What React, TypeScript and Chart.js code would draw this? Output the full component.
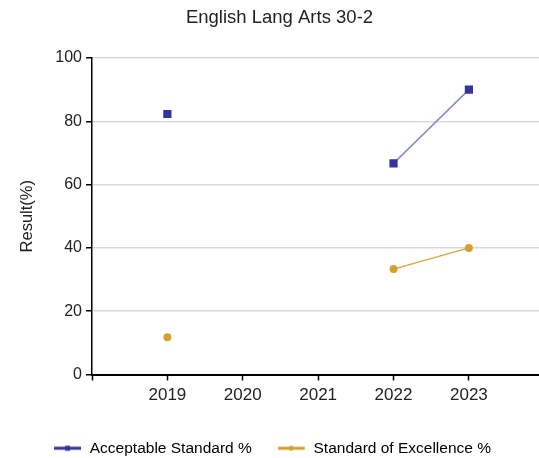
import React, { useEffect, useRef } from 'react';
import { Chart, registerables } from 'chart.js';

Chart.register(...registerables);

// ---- data ----
const years = [2019, 2020, 2021, 2022, 2023];
const acceptable: (number | null)[] = [82.3, null, null, 66.7, 90.0];
const excellence: (number | null)[] = [11.8, null, null, 33.3, 40.0];
const seriesNames = ['Acceptable Standard %', 'Standard of Excellence %'];
const yTickValues = [0, 20, 40, 60, 80, 100];
const chartTitle = 'English Lang Arts 30-2';
const yAxisTitle = 'Result(%)';

const FONT = "'Liberation Sans', Arial, Helvetica, sans-serif";
const TEXT = '#222222';
const ACC_MARK = '#333399';
const ACC_LINE = '#8a8ad2';
const EXC_MARK = '#d4a030';
const EXC_LINE = '#d8a83e';

function makeSample(lineColor: string, markColor: string, shape: 'rect' | 'circle') {
  const c = document.createElement('canvas');
  c.width = 28;
  c.height = 12;
  const ctx = c.getContext('2d')!;
  ctx.strokeStyle = lineColor;
  ctx.lineWidth = 3;
  ctx.beginPath();
  ctx.moveTo(0, 6);
  ctx.lineTo(27, 6);
  ctx.stroke();
  ctx.fillStyle = markColor;
  if (shape === 'rect') {
    ctx.fillRect(11, 3.5, 5, 5);
  } else {
    ctx.beginPath();
    ctx.arc(13.5, 6, 2.5, 0, Math.PI * 2);
    ctx.fill();
  }
  return c;
}

// shifts the title box a little to the right (the source centres it off the canvas middle)
const titleShift = {
  id: 'titleShift',
  afterLayout(chart: any) {
    const t = chart.titleBlock;
    if (t) {
      t.left += 7;
      t.right += 7;
    }
  },
};

export default function App() {
  const ref = useRef<HTMLCanvasElement | null>(null);

  useEffect(() => {
    document.body.style.margin = '0';
    const canvas = ref.current;
    if (!canvas) return;
    const samples = [
      makeSample(ACC_MARK, ACC_MARK, 'rect'),
      makeSample(EXC_MARK, EXC_MARK, 'circle'),
    ];
    const toPts = (arr: (number | null)[]) => years.map((yr, i) => ({ x: yr, y: arr[i] }));

    const chart = new Chart(canvas, {
      type: 'line',
      plugins: [titleShift],
      data: {
        datasets: [
          {
            label: seriesNames[0],
            data: toPts(acceptable) as any,
            borderColor: ACC_LINE,
            backgroundColor: ACC_MARK,
            borderWidth: 1.5,
            pointStyle: 'rect',
            pointRadius: 5.8,
            pointBorderWidth: 0,
            pointBackgroundColor: ACC_MARK,
            pointBorderColor: ACC_MARK,
            spanGaps: false,
            tension: 0,
          },
          {
            label: seriesNames[1],
            data: toPts(excellence) as any,
            borderColor: EXC_LINE,
            backgroundColor: EXC_MARK,
            borderWidth: 1.5,
            pointStyle: 'circle',
            pointRadius: 4,
            pointBorderWidth: 0,
            pointBackgroundColor: EXC_MARK,
            pointBorderColor: EXC_MARK,
            spanGaps: false,
            tension: 0,
          },
        ],
      },
      options: {
        animation: false,
        responsive: false,
        maintainAspectRatio: false,
        layout: { autoPadding: false, padding: { left: 6, right: 0, top: 0, bottom: -8 } },
        scales: {
          x: {
            type: 'linear',
            min: 2018,
            max: 2023.93,
            afterBuildTicks: (scale: any) => {
              scale.ticks = [2018, ...years].map((v) => ({ value: v }));
            },
            afterFit: (scale: any) => {
              scale.height = 40;
              scale.paddingRight = 0;
              scale.paddingLeft = 0;
            },
            ticks: {
              autoSkip: false,
              maxRotation: 0,
              padding: 5,
              color: TEXT,
              font: { family: FONT, size: 17 },
              callback: (v: any) => (Number(v) === 2018 ? '' : String(v)),
            },
            grid: {
              drawOnChartArea: false,
              drawTicks: true,
              tickLength: 6,
              tickColor: '#000',
              tickWidth: 1.5,
            },
            border: { display: true, color: '#000', width: 2 },
          },
          y: {
            min: 0,
            max: 100,
            afterBuildTicks: (scale: any) => {
              scale.ticks = yTickValues.map((v) => ({ value: v }));
            },
            afterFit: (scale: any) => {
              scale.width = 86;
            },
            ticks: {
              padding: 4,
              color: TEXT,
              font: { family: FONT, size: 16 },
              callback: (v: any) => String(v),
            },
            grid: {
              color: '#d9d9d9',
              lineWidth: 1.5,
              drawTicks: true,
              tickLength: 6,
              tickColor: '#000',
              tickWidth: 1.5,
            },
            border: { display: true, color: '#000', width: 1.5 },
            title: {
              display: true,
              text: yAxisTitle,
              color: TEXT,
              font: { family: FONT, size: 16.5 },
              padding: { top: 12, bottom: 0 },
            },
          },
        },
        plugins: {
          title: {
            display: true,
            text: chartTitle,
            color: TEXT,
            font: { family: FONT, size: 18.5, weight: 'normal' },
            padding: { top: 7, bottom: 28.8 },
          },
          legend: {
            display: true,
            position: 'bottom',
            labels: {
              usePointStyle: true,
              pointStyleWidth: 28,
              padding: 26,
              color: TEXT,
              font: { family: FONT, size: 15.5 },
              generateLabels: () =>
                seriesNames.map((name, i) => ({
                  text: name,
                  pointStyle: samples[i] as any,
                  fillStyle: i === 0 ? ACC_MARK : EXC_MARK,
                  strokeStyle: i === 0 ? ACC_MARK : EXC_MARK,
                  lineWidth: 0,
                  hidden: false,
                  datasetIndex: i,
                })),
            },
          },
          tooltip: { enabled: false },
        },
      } as any,
    });
    return () => chart.destroy();
  }, []);

  return (
    <div style={{ width: 539, height: 458, background: '#fff' }}>
      <canvas ref={ref} width={539} height={458} style={{ display: 'block' }} />
    </div>
  );
}
